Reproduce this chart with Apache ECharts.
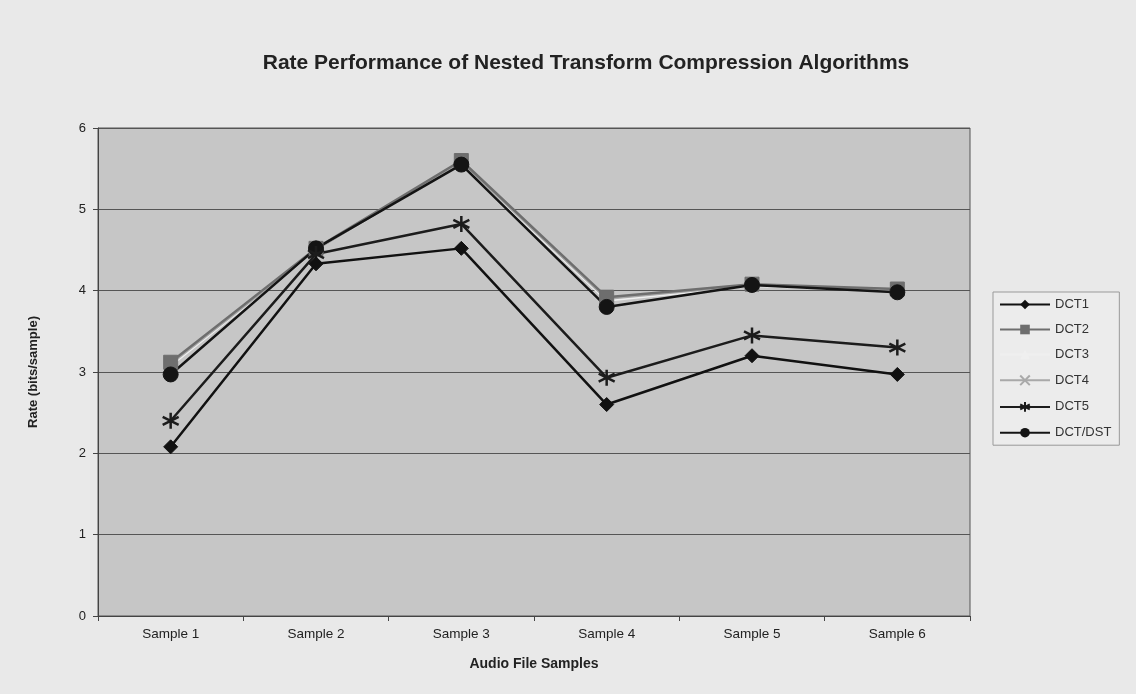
<!DOCTYPE html>
<html>
<head>
<meta charset="utf-8">
<script src="https://cdn.jsdelivr.net/npm/echarts@6/dist/echarts.min.js"></script>
<style>
  html, body { margin: 0; padding: 0; background: #e9e9e9; }
  #myChart { width: 1136px; height: 694px; }
</style>
</head>
<body>
<div id="myChart"></div>
<script>
const categories = ["Sample 1", "Sample 2", "Sample 3", "Sample 4", "Sample 5", "Sample 6"];
const dct1 = [2.08, 4.33, 4.52, 2.6, 3.2, 2.97];
const dct2 = [3.12, 4.52, 5.6, 3.92, 4.08, 4.02];
const dct3 = [3.08, 4.5, 5.57, 3.88, 4.06, 4.0];
const dct4 = [3.1, 4.5, 5.58, 3.9, 4.07, 4.01];
const dct5 = [2.4, 4.45, 4.82, 2.93, 3.45, 3.3];
const dctDst = [2.97, 4.52, 5.55, 3.8, 4.07, 3.98];
const yTicks = [0, 1, 2, 3, 4, 5, 6];

const FONT = "Liberation Sans";
const crossPath = "path://M0,0L10,10M0,10L10,0";
const starPath = "path://M5,0L5,10M0.7,2.5L9.3,7.5M0.7,7.5L9.3,2.5";

function line(name, data, color, symbol, size, extra) {
  return Object.assign({
    type: "line",
    name: name,
    data: data,
    symbol: symbol,
    symbolSize: size,
    showSymbol: true,
    lineStyle: { color: color, width: 2.5 },
    itemStyle: { color: color, borderColor: color },
    emphasis: { disabled: true },
    animation: false
  }, extra || {});
}

let chart = echarts.init(document.getElementById("myChart"));
let option = {
  backgroundColor: "#e9e9e9",
  textStyle: { fontFamily: FONT },
  title: {
    text: "Rate Performance of Nested Transform Compression Algorithms",
    left: 581,
    top: 48,
    textAlign: "center",
    textStyle: { fontFamily: FONT, fontSize: 21, fontWeight: "bold", color: "#222" }
  },
  grid: {
    left: 98,
    top: 128,
    right: 166,
    bottom: 78,
    show: true,
    backgroundColor: "#c6c6c6",
    borderColor: "#555",
    borderWidth: 1
  },
  legend: {
    orient: "vertical",
    left: 993,
    top: 292,
    itemWidth: 50,
    itemHeight: 12,
    itemGap: 12,
    padding: [6, 8, 6, 6],
    borderColor: "#999",
    borderWidth: 1,
    backgroundColor: "#ececec",
    textStyle: { fontFamily: FONT, fontSize: 13, color: "#333" },
    data: ["DCT1", "DCT2", "DCT3", "DCT4", "DCT5", "DCT/DST"]
  },
  xAxis: {
    type: "category",
    data: categories,
    boundaryGap: true,
    name: "Audio File Samples",
    nameLocation: "middle",
    nameGap: 41,
    nameTextStyle: { fontFamily: FONT, fontSize: 14, fontWeight: "bold", color: "#222" },
    axisLine: { lineStyle: { color: "#444" } },
    axisTick: { show: true, alignWithLabel: false, lineStyle: { color: "#444" } },
    axisLabel: { fontFamily: FONT, fontSize: 13.5, color: "#222", margin: 11 }
  },
  yAxis: {
    type: "value",
    min: yTicks[0],
    max: yTicks[yTicks.length - 1],
    interval: 1,
    name: "Rate (bits/sample)",
    nameLocation: "middle",
    nameGap: 58,
    nameTextStyle: { fontFamily: FONT, fontSize: 13, fontWeight: "bold", color: "#222" },
    axisLine: { show: true, lineStyle: { color: "#444" } },
    axisTick: { show: true, lineStyle: { color: "#444" } },
    axisLabel: { fontFamily: FONT, fontSize: 13, color: "#222", margin: 12 },
    splitLine: { show: true, lineStyle: { color: "#555", width: 1 } }
  },
  series: [
    line("DCT3", dct3, "#efefef", "triangle", 10),
    line("DCT4", dct4, "#a9a9a9", crossPath, 12, {
      itemStyle: { color: "none", borderColor: "#a9a9a9", borderWidth: 2 }
    }),
    line("DCT2", dct2, "#6e6e6e", "rect", 14),
    line("DCT/DST", dctDst, "#141414", "circle", 15),
    line("DCT5", dct5, "#1c1c1c", starPath, 16, {
      itemStyle: { color: "none", borderColor: "#1c1c1c", borderWidth: 2.5 }
    }),
    line("DCT1", dct1, "#111111", "diamond", 14)
  ]
};
chart.setOption(option);
</script>
</body>
</html>
